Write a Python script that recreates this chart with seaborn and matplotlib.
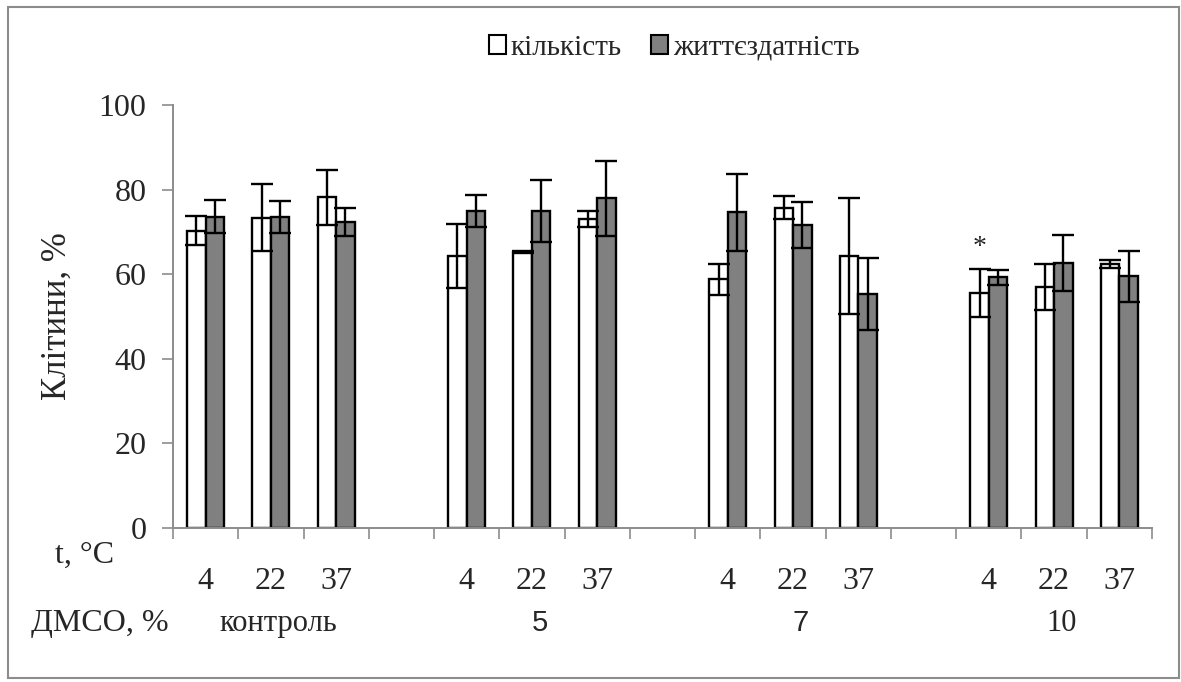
import matplotlib
matplotlib.use("Agg")
import matplotlib.pyplot as plt
import numpy as np
import pandas as pd
import seaborn as sns
from matplotlib.patches import Rectangle

# --- data ------------------------------------------------------------------
groups = ["контроль", "5", "7", "10"]
temps = ["4", "22", "37"]
series = ["кількість", "життєздатність"]

count_mean = [70.3, 73.4, 78.2, 64.3, 65.3, 73.1, 58.8, 75.7, 64.3, 55.6, 57.0, 62.4]
count_err = [3.4, 8.0, 6.5, 7.6, 0.3, 1.9, 3.6, 2.7, 13.7, 5.7, 5.4, 1.0]
viab_mean = [73.6, 73.6, 72.3, 74.9, 74.9, 77.9, 74.7, 71.6, 55.4, 59.3, 62.6, 59.5]
viab_err = [3.9, 3.8, 3.3, 3.8, 7.3, 8.9, 9.1, 5.5, 8.5, 1.8, 6.6, 6.0]
star_index = 9  # 10 % DMSO, 4 °C, кількість

# 15 slots: three temperatures per group, one empty slot between groups
slots = []
for gi, g in enumerate(groups):
    for t in temps:
        slots.append(f"{g}|{t}")
    if gi < len(groups) - 1:
        slots.append(f"gap{gi}")
data_slots = [s for s in slots if not s.startswith("gap")]

df = pd.DataFrame({
    "slot": data_slots * 2,
    "series": [series[0]] * 12 + [series[1]] * 12,
    "value": count_mean + viab_mean,
    "err": count_err + viab_err,
})

# --- style -------------------------------------------------------------------
sns.set_style("white")
plt.rcParams["font.family"] = ["Liberation Serif", "DejaVu Serif"]
axis_grey = "#8c8c8c"

fig = plt.figure(figsize=(11.81, 6.82), dpi=100)
ax = fig.add_axes([173 / 1181, 1 - 528 / 682, (1152 - 173) / 1181, (528 - 105) / 682])

sns.barplot(
    data=df, x="slot", y="value", hue="series", order=slots, hue_order=series,
    palette=["white", "#808080"], width=0.567, errorbar=None,
    edgecolor="black", linewidth=1.7, saturation=1, ax=ax, legend=False,
)

# error bars at the centres of the bars seaborn drew
for container, name in zip(ax.containers, series):
    sub = df[df["series"] == name].set_index("slot")
    xs = [p.get_x() + p.get_width() / 2 for p in container.patches]
    ys = [p.get_height() for p in container.patches]
    errs = sub.loc[data_slots, "err"].to_numpy()
    ax.errorbar(xs, ys, yerr=errs, fmt="none", ecolor="black",
                elinewidth=1.7, capsize=8, capthick=1.7, zorder=5)
    if name == series[0]:
        p = container.patches[star_index]
        ax.text(p.get_x() + p.get_width() / 2, ys[star_index] + errs[star_index] + 5.0,
                "*", ha="center", va="center", fontsize=20)

# --- axes --------------------------------------------------------------------
ax.set_xlim(-0.5, len(slots) - 0.5)
ax.set_ylim(0, 100)
ax.set_yticks(np.arange(0, 101, 20))
ax.tick_params(axis="y", labelsize=23, length=8, width=1.2, color=axis_grey, pad=11, left=True)

ax.set_xticks(range(len(slots)))
ax.set_xticklabels([s.split("|")[1] if "|" in s else "" for s in slots])
ax.set_xticks(np.arange(-0.5, len(slots), 1), minor=True)
ax.tick_params(axis="x", which="major", length=0, labelsize=23, pad=28)
ax.tick_params(axis="x", which="minor", length=8, width=1.2, color=axis_grey, bottom=True)

for side in ["top", "right"]:
    ax.spines[side].set_visible(False)
for side in ["left", "bottom"]:
    ax.spines[side].set_color(axis_grey)
    ax.spines[side].set_linewidth(1.4)

ax.set_xlabel("")
ax.set_ylabel("Клітини, %", fontsize=25, labelpad=18)

# group labels under each temperature triple
for gi, g in enumerate(groups):
    centre = slots.index(f"{g}|22")
    sans = g in ("5", "7")
    ax.text(centre + 0.12, -0.225, g, transform=ax.get_xaxis_transform(),
            ha="center", va="center", fontsize=21 if sans else 22,
            family=["Liberation Sans"] if sans else None)

fig.text(85 / 1181, 1 - 555 / 682, "t, °C", ha="center", va="center", fontsize=23)
fig.text(100 / 1181, 1 - 623 / 682, "ДМСО, %", ha="center", va="center", fontsize=23)

# legend
handles = [Rectangle((0, 0), 1, 1, facecolor=c, edgecolor="black", linewidth=1.5)
           for c in ["white", "#808080"]]
fig.legend(handles, series, loc="center", bbox_to_anchor=(674 / 1181, 1 - 48 / 682),
           ncol=2, frameon=False, fontsize=21, handlelength=0.6, handleheight=0.6,
           handletextpad=0.15, columnspacing=1.0)

# outer chart frame
fig.patches.append(Rectangle((8 / 1181, 4 / 682), 1171 / 1181, 671 / 682,
                             transform=fig.transFigure, fill=False,
                             edgecolor=axis_grey, linewidth=1.5))

fig.savefig("out.png", dpi=100)
